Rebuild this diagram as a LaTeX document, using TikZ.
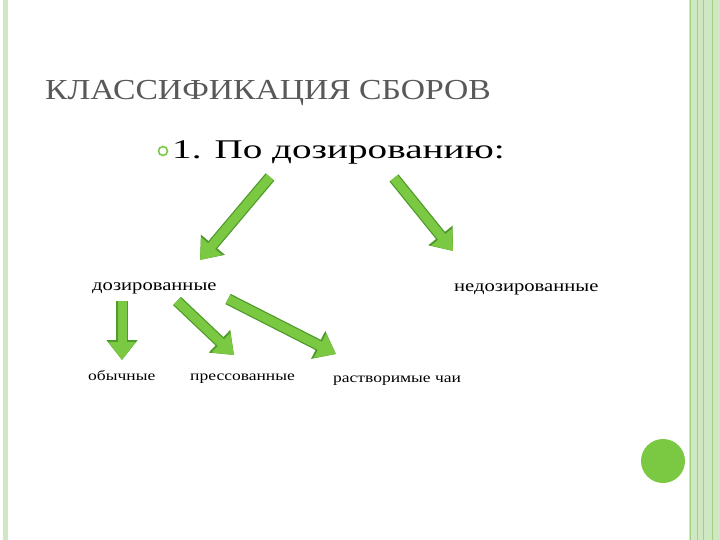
\documentclass[tikz,border=0pt]{standalone}
\usepackage{fontspec}
\setmainfont{Liberation Serif}
\newfontfamily\titlefont[FakeStretch=1.16]{Liberation Serif}
\newfontfamily\headfont[FakeStretch=1.45]{Liberation Serif}
\newfontfamily\widefont[FakeStretch=1.25]{Liberation Serif}
\usetikzlibrary{arrows.meta}
\definecolor{lg}{HTML}{7BC942}
\definecolor{dg}{HTML}{4E9A2A}
\definecolor{band}{HTML}{CFE7C2}
\definecolor{bline}{HTML}{9FD17F}
\tikzset{
 fat/.style={line width=9pt,draw=lg,-{Triangle[length=18pt,width=26pt]}},
 fatout/.style={line width=11.5pt,draw=dg,-{Triangle[length=20pt,width=30pt]}},
 lbl/.style={inner sep=0pt,anchor=base west,text=black}
}
\newcommand{\fatarrow}[2]{\draw[fatout] (#1) -- (#2); \draw[fat] (#1) -- (#2);}
\begin{document}
\begin{tikzpicture}[x=1pt,y=-1pt]
\useasboundingbox (0,0) rectangle (720,540);
\fill[white] (0,0) rectangle (720,540);
\fill[band] (3,0) rectangle (8,540);
\fill[band] (689,0) rectangle (720,540);
\foreach \x in {690,697,703,712} \draw[bline,line width=0.8pt] (\x,0) -- (\x,540);
\fill[lg] (663,461) circle (22);
\node[lbl,text=black!65,font=\titlefont\fontsize{29}{32}\selectfont] (title) at (45,100) {КЛАССИФИКАЦИЯ СБОРОВ};
\node[draw=lg,line width=1.6pt,circle,minimum size=9pt,inner sep=0pt] (bul) at (163,151) {};
\node[lbl,font=\headfont\fontsize{27}{30}\selectfont] (head) at (172,159) {1. По дозированию:};
\node[lbl,font=\widefont\fontsize{16.5}{19}\selectfont] (doz) at (92,290) {дозированные};
\node[lbl,font=\widefont\fontsize{16.5}{19}\selectfont] (nedoz) at (454,291) {недозированные};
\node[lbl,font=\widefont\fontsize{14}{17}\selectfont] (ob) at (88,380) {обычные};
\node[lbl,font=\widefont\fontsize{14}{17}\selectfont] (pr) at (190,380) {прессованные};
\node[lbl,font=\widefont\fontsize{14}{17}\selectfont] (ra) at (333,382) {растворимые чаи};
\coordinate (a1s) at (270,177); \coordinate (a1e) at (200,260);
\coordinate (a2s) at (394,178); \coordinate (a2e) at (453,251);
\coordinate (a3s) at (122,301); \coordinate (a3e) at (122,360);
\coordinate (a4s) at (177,301); \coordinate (a4e) at (234,355);
\coordinate (a5s) at (228,299); \coordinate (a5e) at (336,354);
\fatarrow{a1s}{a1e}
\fatarrow{a2s}{a2e}
\fatarrow{a3s}{a3e}
\fatarrow{a4s}{a4e}
\fatarrow{a5s}{a5e}
\end{tikzpicture}
\end{document}
